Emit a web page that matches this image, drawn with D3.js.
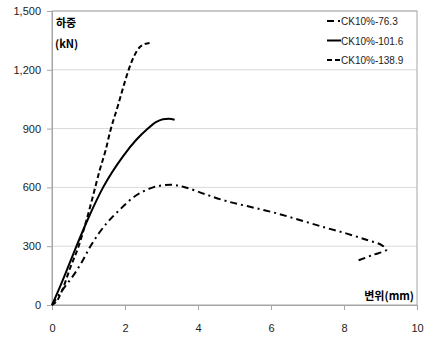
<!DOCTYPE html>
<html>
<head>
<meta charset="utf-8">
<script src="https://cdn.jsdelivr.net/npm/d3@7"></script>
<style>
  body { margin: 0; background: #fff; }
  text { font-family: "Liberation Sans", "Noto Sans CJK KR", sans-serif; }
</style>
</head>
<body>
<div id="chart"></div>
<script>
// load-displacement curves
let seriesNames = ['CK10%-76.3', 'CK10%-101.6', 'CK10%-138.9'];

let disp763 = [0, 0.3, 0.62, 0.85, 1.05, 1.3, 1.55, 1.85, 2.27, 2.77, 3.27, 3.64, 4.2, 4.78, 5.45, 6.15, 6.85, 7.52, 8.1, 8.61, 9.02, 9.16, 8.8, 8.4];
let load763 = [0, 80, 160, 230, 298, 370, 428, 485, 555, 600, 613, 601, 565, 530, 500, 468, 430, 393, 363, 333, 307, 282, 256, 228];

let disp1016 = [0, 0.2, 0.4, 0.67, 1.0, 1.4, 1.95, 2.31, 2.59, 2.86, 3.04, 3.2, 3.36];
let load1016 = [0, 85, 175, 300, 445, 600, 760, 843, 894, 934, 948, 950, 945];

let disp1389 = [0, 0.15, 0.3, 0.5, 0.73, 0.94, 1.1, 1.31, 1.47, 1.6, 1.8, 1.95, 2.1, 2.25, 2.4, 2.55, 2.72];
let load1389 = [0, 25, 85, 190, 300, 430, 540, 690, 790, 890, 1013, 1110, 1200, 1270, 1315, 1332, 1338];

let xTicks = [0, 2, 4, 6, 8, 10];
let yTicks = [0, 300, 600, 900, 1200, 1500];

let dashes = ['7,4,2,4', null, '5,3'];

let margin = { left: 52, top: 11, right: 15, bottom: 35 };
let width = 432 - margin.left - margin.right;
let height = 340 - margin.top - margin.bottom;

let svg = d3.select('#chart').append('svg')
    .attr('width', 432)
    .attr('height', 340)

let g = svg.append('g')
    .attr('transform', 'translate(' + margin.left + ',' + margin.top + ')')

let x = d3.scaleLinear().domain([0, 10]).range([0, width]);
let y = d3.scaleLinear().domain([0, 1500]).range([height, 0]);

// horizontal gridlines
g.append('g')
    .selectAll('line')
    .data(yTicks.slice(1))
    .enter().append('line')
    .attr('x1', 0)
    .attr('x2', width)
    .attr('y1', d => y(d))
    .attr('y2', d => y(d))
    .attr('stroke', '#d9d9d9')

// plot border (top / right)
g.append('rect')
    .attr('width', width)
    .attr('height', height)
    .attr('fill', 'none')
    .attr('stroke', '#a6a6a6')

// axes
let xAxis = d3.axisBottom(x).tickValues(xTicks).tickSize(5).tickPadding(14)
    .tickFormat(d3.format('d'));
let yAxis = d3.axisLeft(y).tickValues(yTicks).tickSize(5).tickPadding(6)
    .tickFormat(d3.format(','));

let xg = g.append('g')
    .attr('transform', 'translate(0,' + height + ')')
    .call(xAxis)
let yg = g.append('g').call(yAxis)

;[xg, yg].forEach(function (a) {
    a.select('.domain').attr('stroke', '#a6a6a6')
    a.selectAll('.tick line').attr('stroke', '#a6a6a6')
    a.selectAll('.tick text')
        .attr('font-size', '11px')
        .attr('fill', '#222')
        .style('font-family', '"Liberation Sans", sans-serif')
})

// curves
let series = [
    { name: seriesNames[0], xs: disp763, ys: load763, dash: dashes[0], curve: d3.curveCatmullRom.alpha(0.5) },
    { name: seriesNames[1], xs: disp1016, ys: load1016, dash: dashes[1], curve: d3.curveMonotoneX },
    { name: seriesNames[2], xs: disp1389, ys: load1389, dash: dashes[2], curve: d3.curveMonotoneX }
];

g.selectAll('.curve')
    .data(series)
    .enter().append('path')
    .attr('class', 'curve')
    .attr('d', s => d3.line()
        .x(d => x(d[0]))
        .y(d => y(d[1]))
        .curve(s.curve)(s.xs.map((v, i) => [v, s.ys[i]])))
    .attr('fill', 'none')
    .attr('stroke', '#000')
    .attr('stroke-width', 2)
    .attr('stroke-dasharray', s => s.dash)

// axis titles
g.append('text')
    .attr('x', 4)
    .attr('y', 16)
    .attr('font-size', '11px')
    .attr('font-weight', 'bold')
    .style('font-family', '"Noto Sans CJK KR", sans-serif')
    .text('하중')

g.append('text')
    .attr('x', 3)
    .attr('y', 37)
    .attr('font-size', '11px')
    .attr('font-weight', 'bold')
    .style('font-family', '"Noto Sans CJK KR", sans-serif')
    .text('(kN)')

g.append('text')
    .attr('x', width - 3)
    .attr('y', height - 5)
    .attr('text-anchor', 'end')
    .attr('font-size', '11px')
    .attr('font-weight', 'bold')
    .style('font-family', '"Noto Sans CJK KR", sans-serif')
    .text('변위(mm)')

// legend
let legend = svg.append('g')
    .attr('transform', 'translate(327, 21)')

let items = legend.selectAll('g')
    .data(series)
    .enter().append('g')
    .attr('transform', (d, i) => 'translate(0,' + (i * 19.5) + ')')

items.append('line')
    .attr('x1', 0)
    .attr('x2', 14)
    .attr('stroke', '#000')
    .attr('stroke-width', 2)
    .attr('stroke-dasharray', d => d.dash)

items.append('text')
    .attr('x', 14)
    .attr('y', 4)
    .attr('font-size', '10px')
    .attr('fill', '#222')
    .text(d => d.name)
</script>
</body>
</html>
